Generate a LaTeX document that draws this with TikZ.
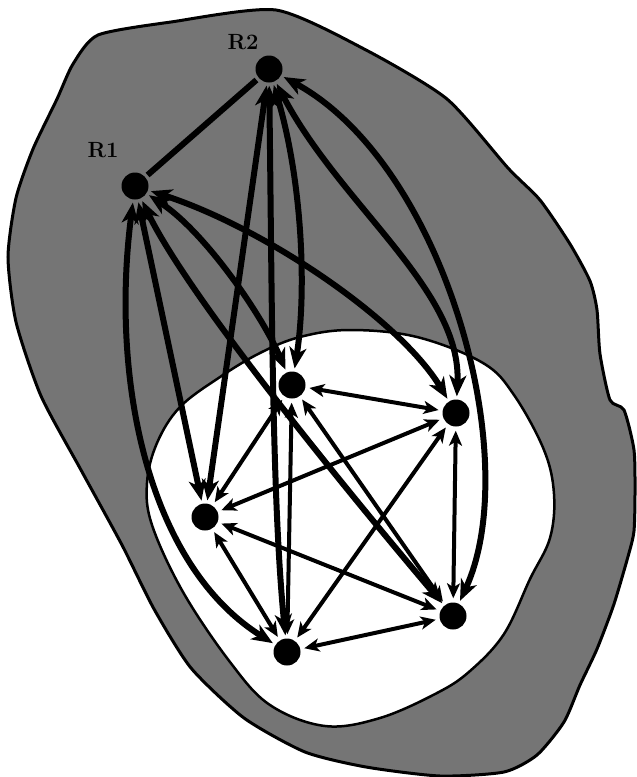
\documentclass[tikz,border=0pt]{standalone}
\usetikzlibrary{arrows.meta}
\begin{document}
\begin{tikzpicture}[x=1pt,y=-1pt,
  dot/.style={circle, fill=black, inner sep=0pt, minimum size=27pt},
  lab/.style={font=\bfseries\fontsize{22}{22}\selectfont, inner sep=0pt},
  thickline/.style={line width=6pt, shorten <=3pt, shorten >=3pt},
  heavy/.style={thickline, {Stealth[length=21pt,width=17pt,inset=6pt]}-{Stealth[length=21pt,width=17pt,inset=6pt]}},
  light/.style={line width=4pt, shorten <=4pt, shorten >=4pt, {Stealth[length=15pt,width=13pt,inset=4pt]}-{Stealth[length=15pt,width=13pt,inset=4pt]}}
]
\useasboundingbox (0,0) rectangle (637,777);
% outer region
\draw[line width=3pt, fill=black!54] plot[smooth cycle, tension=0.4] coordinates {
 (98,35) (171,22) (276,10) (366,50) (447,99) (508,168) (540,200) (570,244) (590,281) (597,310) (600,354) (610,400) (624,410) (634,450) (635,494) (634,531) (629,553) (614,604) (597,649) (580,685) (564,722) (537,755) (504,772) (440,776) (366,767) (305,752) (244,718) (191,668) (154,609) (122,545) (81,470) (41,396) (16,322) (8,257) (16,198) (33,149) (57,99) (73,64)};
% inner region
\draw[line width=2.5pt, fill=white] plot[smooth cycle, tension=0.6] coordinates {
 (350,330) (417,337) (483,363) (514,395) (544,450) (554,494) (550,538) (530,579) (504,634) (470,671) (437,693) (380,718) (325,726) (270,705) (230,662) (183,592) (152,525) (147,483) (157,443) (180,407) (220,377) (260,353) (300,337)};
% nodes
\node[dot] (r2) at (269,69) {};
\node[dot] (r1) at (135,186) {};
\node[dot] (a) at (292,385) {};
\node[dot] (b) at (456,413) {};
\node[dot] (c) at (205,517) {};
\node[dot] (d) at (287,652) {};
\node[dot] (e) at (453,616) {};
\node[lab] (l1) at (103,150) {R1};
\node[lab] (l2) at (243,42) {R2};
% R1 edges
\draw[thickline] (r1) -- (r2);
\draw[heavy] (r1) -- (c);
\draw[heavy] (r1) .. controls (110,380) and (148,565) .. (d);
\draw[heavy] (r1) .. controls (205,232) and (262,315) .. (a);
\draw[heavy] (r1) .. controls (185,290) and (325,465) .. (e);
\draw[heavy] (r1) .. controls (265,228) and (400,320) .. (b);
% R2 edges
\draw[heavy] (r2) -- (c);
\draw[heavy] (r2) .. controls (272,300) and (272,500) .. (d);
\draw[heavy] (r2) .. controls (302,180) and (307,290) .. (a);
\draw[heavy] (r2) .. controls (340,205) and (462,290) .. (b);
\draw[heavy] (r2) .. controls (445,165) and (525,460) .. (e);
% inner edges
\draw[light] (a) -- (b);
\draw[light] (a) -- (c);
\draw[light] (a) -- (d);
\draw[light] (a) -- (e);
\draw[light] (b) -- (c);
\draw[light] (b) -- (d);
\draw[light] (b) -- (e);
\draw[light] (c) -- (d);
\draw[light] (c) -- (e);
\draw[light] (d) -- (e);
\end{tikzpicture}
\end{document}
